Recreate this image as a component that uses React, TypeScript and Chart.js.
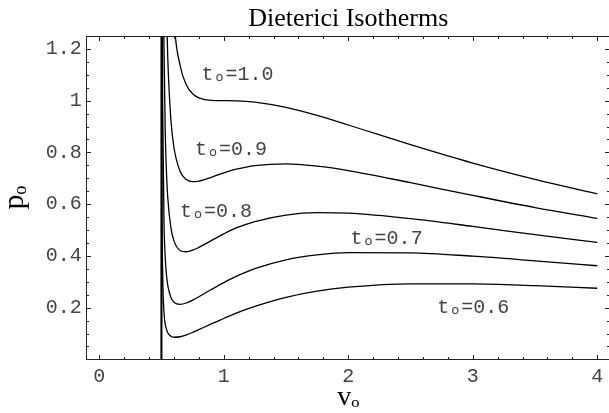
import React, { useEffect, useRef } from "react";
import { Chart, registerables } from "chart.js";

Chart.register(...registerables);

// ---- text ----
const chartTitle = "Dieterici Isotherms";
const xAxisTitle = "vₒ";
const yAxisTitle = "pₒ";

// ---- axes ----
const xMin = -0.1;
const xMax = 4.1;
const yMin = 0;
const yMax = 1.25;
const xTickValues = [0, 1, 2, 3, 4];
const xTickLabels = ["0", "1", "2", "3", "4"];
const yTickValues = [0.2, 0.4, 0.6, 0.8, 1.0, 1.2];
const yTickLabels = ["0.2", "0.4", "0.6", "0.8", "1", "1.2"];
const xMinorStep = 0.2;
const yMinorStep = 0.05;

// ---- isotherms (reduced volume v, reduced pressure p) ----
const t10V = [0.499, 0.501, 0.52, 0.55, 0.6, 0.65, 0.7, 0.75, 0.8, 0.9, 1.0, 1.1, 1.25, 1.5, 1.75, 2.0, 2.5, 3.0, 3.5, 4.0];
const t10P = [-67, 68, 3.95, 1.95, 1.318, 1.135, 1.061, 1.027, 1.011, 1.001, 1.0, 0.9995, 0.9945, 0.974, 0.943, 0.906, 0.83, 0.759, 0.696, 0.64];

const t09V = [0.499, 0.501, 0.52, 0.53, 0.54, 0.55, 0.575, 0.6, 0.65, 0.7, 0.75, 0.8, 0.9, 1.0, 1.1, 1.25, 1.5, 1.75, 2.0, 2.5, 3.0, 3.5, 4.0];
const t09P = [-38.7, 39, 2.32, 1.67, 1.36, 1.17, 0.929, 0.819, 0.726, 0.695, 0.687, 0.689, 0.704, 0.721, 0.735, 0.749, 0.756, 0.747, 0.73, 0.683, 0.634, 0.587, 0.545];

const t08V = [0.499, 0.501, 0.51, 0.515, 0.52, 0.53, 0.54, 0.55, 0.575, 0.6, 0.65, 0.7, 0.75, 0.8, 0.9, 1.0, 1.1, 1.25, 1.5, 1.75, 2.0, 2.5, 3.0, 3.5, 4.0];
const t08P = [-19.7, 20.1, 2.2, 1.535, 1.207, 0.881, 0.721, 0.627, 0.51, 0.458, 0.421, 0.416, 0.422, 0.433, 0.459, 0.485, 0.508, 0.533, 0.558, 0.567, 0.565, 0.544, 0.514, 0.482, 0.452];

const t07V = [0.499, 0.501, 0.505, 0.51, 0.52, 0.53, 0.54, 0.55, 0.575, 0.6, 0.65, 0.7, 0.75, 0.8, 0.9, 1.0, 1.1, 1.25, 1.5, 1.75, 2.0, 2.5, 3.0, 3.5, 4.0];
const t07P = [-8.43, 8.63, 1.805, 0.954, 0.531, 0.393, 0.326, 0.287, 0.24, 0.221, 0.213, 0.218, 0.229, 0.242, 0.27, 0.297, 0.321, 0.351, 0.385, 0.404, 0.413, 0.412, 0.399, 0.381, 0.362];

const t06V = [0.499, 0.501, 0.502, 0.505, 0.51, 0.52, 0.53, 0.54, 0.55, 0.575, 0.6, 0.65, 0.7, 0.75, 0.8, 0.9, 1.0, 1.1, 1.25, 1.5, 1.75, 2.0, 2.5, 3.0, 3.5, 4.0];
const t06P = [-2.78, 2.86, 1.448, 0.603, 0.322, 0.182, 0.137, 0.116, 0.103, 0.0897, 0.0857, 0.0876, 0.0947, 0.104, 0.115, 0.137, 0.158, 0.179, 0.205, 0.24, 0.264, 0.279, 0.292, 0.292, 0.285, 0.275];

const seriesNames = ["t=1.0", "t=0.9", "t=0.8", "t=0.7", "t=0.6"];
const seriesV = [t10V, t09V, t08V, t07V, t06V];
const seriesP = [t10P, t09P, t08P, t07P, t06P];

// ---- curve labels (anchored in data coordinates) ----
const curveLabels = ["tₒ=1.0", "tₒ=0.9", "tₒ=0.8", "tₒ=0.7", "tₒ=0.6"];
const curveLabelV = [0.822, 0.769, 0.648, 2.019, 2.715];
const curveLabelP = [1.081, 0.791, 0.552, 0.445, 0.181];

const MONO = '"Liberation Mono", "Courier New", monospace';
const SERIF = '"Liberation Serif", "Times New Roman", serif';

const frameTicksPlugin = {
  id: "frameTicks",
  afterDatasetsDraw(chart: any) {
    const { ctx, chartArea: a, scales } = chart;
    const xs = scales.x;
    const ys = scales.y;
    ctx.save();
    ctx.strokeStyle = "#222";
    ctx.lineWidth = 1;
    const top = Math.floor(a.top) + 0.5;
    const bottom = Math.floor(a.bottom) + 0.5;
    const left = Math.floor(a.left) + 0.5;
    const right = Math.floor(a.right) + 0.5;
    ctx.beginPath();
    ctx.moveTo(left, top);
    ctx.lineTo(right, top);
    ctx.lineTo(right, bottom);
    ctx.stroke();

    const isMajor = (v: number, list: number[]) => list.some((m) => Math.abs(m - v) < 1e-6);
    const xTick = (v: number, len: number) => {
      const px = Math.round(xs.getPixelForValue(v)) + 0.5;
      ctx.beginPath();
      ctx.moveTo(px, bottom);
      ctx.lineTo(px, bottom - len);
      ctx.moveTo(px, top);
      ctx.lineTo(px, top + len);
      ctx.stroke();
    };
    const yTick = (v: number, len: number) => {
      const py = Math.round(ys.getPixelForValue(v)) + 0.5;
      ctx.beginPath();
      ctx.moveTo(left, py);
      ctx.lineTo(left + len, py);
      ctx.moveTo(right, py);
      ctx.lineTo(right - len, py);
      ctx.stroke();
    };
    xTickValues.forEach((v) => xTick(v, 4.5));
    for (let k = Math.ceil(xMin / xMinorStep); k * xMinorStep <= xMax - 1e-9; k++) {
      const v = k * xMinorStep;
      if (!isMajor(v, xTickValues)) xTick(v, 2.5);
    }
    yTickValues.forEach((v) => yTick(v, 4.5));
    for (let k = Math.ceil(yMin / yMinorStep) + 1; k * yMinorStep < yMax - 1e-9; k++) {
      const v = k * yMinorStep;
      if (!isMajor(v, yTickValues)) yTick(v, 2.5);
    }

    // curve labels
    ctx.fillStyle = "#444";
    ctx.font = `20px ${MONO}`;
    ctx.textAlign = "left";
    ctx.textBaseline = "alphabetic";
    curveLabels.forEach((txt, i) => {
      ctx.fillText(txt, xs.getPixelForValue(curveLabelV[i]), ys.getPixelForValue(curveLabelP[i]));
    });
    ctx.restore();
  },
};

export default function App() {
  const ref = useRef<HTMLCanvasElement>(null);
  useEffect(() => {
    if (!ref.current) return;
    const chart = new Chart(ref.current, {
      type: "line",
      data: {
        datasets: seriesV.map((vs, i) => ({
          label: seriesNames[i],
          data: vs.map((v, j) => ({ x: v, y: seriesP[i][j] })),
          borderColor: "#000",
          borderWidth: 1.3,
          pointRadius: 0,
          pointHoverRadius: 0,
          fill: false,
          cubicInterpolationMode: "monotone" as const,
        })),
      },
      options: {
        responsive: false,
        maintainAspectRatio: false,
        devicePixelRatio: 1,
        animation: false,
        events: [],
        layout: { padding: { left: 0, top: 0, right: 2.3, bottom: 0 } },
        plugins: {
          legend: { display: false },
          tooltip: { enabled: false },
          title: {
            display: true,
            text: chartTitle,
            fullSize: false,
            color: "#000",
            font: { family: SERIF, size: 26, weight: "normal" as any, lineHeight: 1.2 },
            padding: { top: 3.9, bottom: 0.9 },
          },
        },
        scales: {
          x: {
            type: "linear",
            min: xMin,
            max: xMax,
            afterBuildTicks: (s: any) => {
              s.ticks = xTickValues.map((v) => ({ value: v }));
            },
            afterFit: (s: any) => {
              s.height = 413 - 359.4;
            },
            grid: { display: false, drawTicks: false, tickLength: 0 },
            border: { display: true, color: "#222", width: 1 },
            ticks: {
              autoSkip: false,
              maxRotation: 0,
              padding: 5,
              color: "#444",
              font: { family: MONO, size: 20 },
              callback: (val: any) => xTickLabels[xTickValues.findIndex((t) => Math.abs(t - Number(val)) < 1e-9)] ?? "",
            },
            title: {
              display: true,
              text: xAxisTitle,
              color: "#000",
              font: { family: SERIF, size: 28, lineHeight: 1.125 },
              padding: { top: 0, bottom: 0 },
            },
          },
          y: {
            type: "linear",
            min: yMin,
            max: yMax,
            afterBuildTicks: (s: any) => {
              s.ticks = yTickValues.map((v) => ({ value: v }));
            },
            afterFit: (s: any) => {
              s.width = 86.8;
            },
            grid: { display: false, drawTicks: false, tickLength: 0 },
            border: { display: true, color: "#222", width: 1 },
            ticks: {
              autoSkip: false,
              padding: 5,
              color: "#444",
              font: { family: MONO, size: 20 },
              callback: (val: any) => yTickLabels[yTickValues.findIndex((t) => Math.abs(t - Number(val)) < 1e-9)] ?? "",
            },
            title: {
              display: true,
              text: yAxisTitle,
              color: "#000",
              font: { family: SERIF, size: 30, lineHeight: 1.0 },
              padding: { top: 0, bottom: 0 },
            },
          },
        },
      },
      plugins: [frameTicksPlugin],
    } as any);
    return () => chart.destroy();
  }, []);

  return (
    <div style={{ position: "fixed", left: 0, top: 0, width: 609, height: 413, overflow: "hidden", background: "#fff" }}>
      <canvas ref={ref} width={612} height={413} style={{ display: "block", width: 612, height: 413 }} />
    </div>
  );
}
